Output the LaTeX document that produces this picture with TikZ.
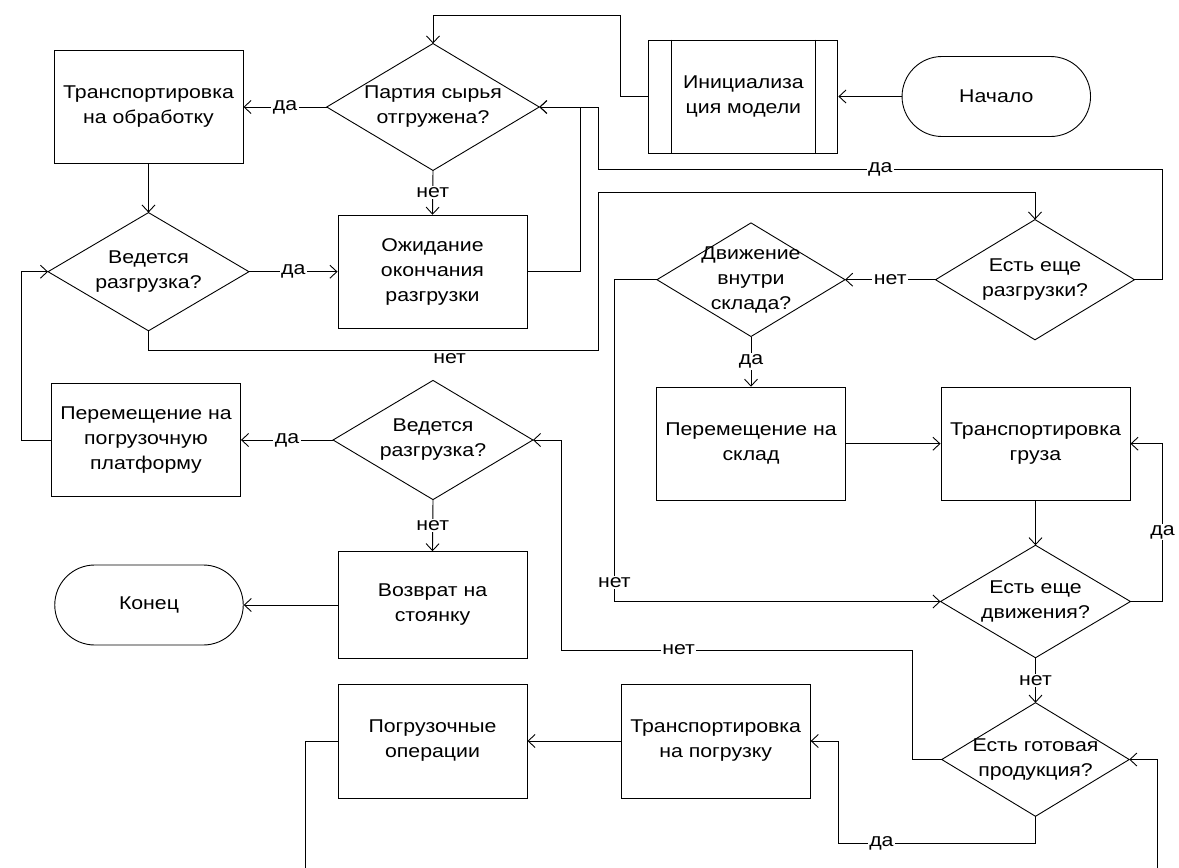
\documentclass[tikz,border=0pt]{standalone}
\usepackage{fontspec}
\setmainfont{Liberation Sans}[FakeStretch=1.15]
\usetikzlibrary{arrows.meta}
\begin{document}
\begin{tikzpicture}[x=1pt,y=-1pt,line width=0.9pt,
  every node/.style={font=\fontsize{18.5}{25}\selectfont, align=center},
  box/.style={draw, rectangle, minimum width=189pt, minimum height=113pt, inner sep=0pt},
  dia/.style={rectangle, inner sep=0pt},
  term/.style={draw, rectangle, rounded corners=40pt, minimum width=188.5pt, minimum height=80pt},
  arr/.style={-{Straight Barb[length=7pt,width=13pt]}},
  lab/.style={fill=white, inner sep=1.5pt}]
\useasboundingbox (0,0) rectangle (1179,868);
% nodes
\node[box] (A) at (148.5,107) {Транспортировка\\на обработку};
\node[dia, minimum width=211.6pt, minimum height=126pt] (B) at (433,107) {Партия сырья\\отгружена?};
\node[box] (C) at (432.5,271.7) {Ожидание\\окончания\\разгрузки};
\node[dia, minimum width=200pt, minimum height=117.3pt] (D) at (148.5,271.7) {Ведется\\разгрузка?};
\node[box] (E) at (743.4,96.5) {Инициализа\\ция модели};
\node[term] (F) at (996.3,96.5) {Начало};
\node[dia, minimum width=198pt, minimum height=119.3pt] (G) at (1035,279.7) {Есть еще\\разгрузки?};
\node[dia, minimum width=187.2pt, minimum height=112.7pt] (H) at (751,279.7) {Движение\\внутри\\склада?};
\node[box] (I) at (751,443.7) {Перемещение на\\склад};
\node[box] (J) at (1035.5,443.7) {Транспортировка\\груза};
\node[dia, minimum width=189pt, minimum height=111.6pt] (K) at (1035.5,601.5) {Есть еще\\движения?};
\node[dia, minimum width=199pt, minimum height=118.3pt] (L) at (433,440) {Ведется\\разгрузка?};
\node[box] (M) at (146,440) {Перемещение на\\погрузочную\\платформу};
\node[box, minimum height=106.6pt] (N) at (432.5,605) {Возврат на\\стоянку};
\node[term] (O) at (149,605) {Конец};
\node[dia, minimum width=186.6pt, minimum height=112.7pt] (P) at (1035.5,759.5) {Есть готовая\\продукция?};
\node[box, minimum height=114pt] (Q) at (715.7,741) {Транспортировка\\на погрузку};
\node[box, minimum height=114pt] (R) at (432.5,741) {Погрузочные\\операции};
% diamond outlines
\foreach \n in {B,D,G,H,K,L,P}
  \draw (\n.north) -- (\n.east) -- (\n.south) -- (\n.west) -- cycle;
% predefined process side bars
\draw ([xshift=22.7pt]E.north west) -- ([xshift=22.7pt]E.south west);
\draw ([xshift=-22.7pt]E.north east) -- ([xshift=-22.7pt]E.south east);
% coordinates
\coordinate (e1) at (620,15);
\coordinate (c1) at (580,107);
\coordinate (g1) at (1162.5,169);
\coordinate (g2) at (598,169);
\coordinate (d1) at (148.5,350.7);
\coordinate (d2) at (598,350.7);
\coordinate (d3) at (598,192.7);
\coordinate (h1) at (614.4,279.7);
\coordinate (h2) at (614.4,601.5);
\coordinate (k1) at (1162.5,601.5);
\coordinate (k2) at (1162.5,443.7);
\coordinate (p1) at (912.5,759.5);
\coordinate (p2) at (912.5,650);
\coordinate (p3) at (561.8,650);
\coordinate (p4) at (561.8,440);
\coordinate (q1) at (1035.5,843.3);
\coordinate (q2) at (838,843.3);
\coordinate (q3) at (838,741);
\coordinate (r1) at (305.8,741);
\coordinate (r2) at (305.8,868);
\coordinate (s1) at (1157.3,868);
\coordinate (s2) at (1157.3,759.5);
\coordinate (m1) at (21,440);
\coordinate (m2) at (21,271.7);
% connectors
\draw[arr] (F.west) -- (E.east);
\draw[arr] (E.west) -| (e1) -| (B.north);
\draw[arr] (B.west) -- node[lab]{да} (A.east);
\draw[arr] (B.south) -- node[lab]{нет} (C.north);
\draw[arr] (A.south) -- (D.north);
\draw[arr] (D.east) -- node[lab]{да} (C.west);
\draw[arr] (C.east) -| (c1) -- (B.east);
\draw[arr] (G.east) -| (g1) -- node[lab]{да} (g2) |- (B.east);
\draw[arr] (D.south) -- (d1) -- node[pos=0.67, below, inner sep=2pt]{нет} (d2) -- (d3) -| (G.north);
\draw[arr] (G.west) -- node[lab]{нет} (H.east);
\draw[arr] (H.south) -- node[lab]{да} (I.north);
\draw[arr] (H.west) -- (h1) -- node[lab,pos=0.94]{нет} (h2) -- (K.west);
\draw[arr] (I.east) -- (J.west);
\draw[arr] (J.south) -- (K.north);
\draw[arr] (K.east) -- (k1) -- node[lab,pos=0.44]{да} (k2) -- (J.east);
\draw[arr] (K.south) -- node[lab]{нет} (P.north);
\draw[arr] (P.west) -- (p1) -- (p2) -- node[lab,pos=0.667]{нет} (p3) -- (p4) -- (L.east);
\draw[arr] (P.south) -- (q1) -- node[lab,pos=0.78]{да} (q2) -- (q3) -- (Q.east);
\draw[arr] (Q.west) -- (R.east);
\draw (R.west) -- (r1) -- (r2);
\draw[arr] (s1) -- (s2) -- (P.east);
\draw[arr] (L.west) -- node[lab]{да} (M.east);
\draw[arr] (L.south) -- node[lab]{нет} (N.north);
\draw[arr] (N.west) -- (O.east);
\draw[arr] (M.west) -- (m1) -- (m2) -- (D.west);
\end{tikzpicture}
\end{document}
